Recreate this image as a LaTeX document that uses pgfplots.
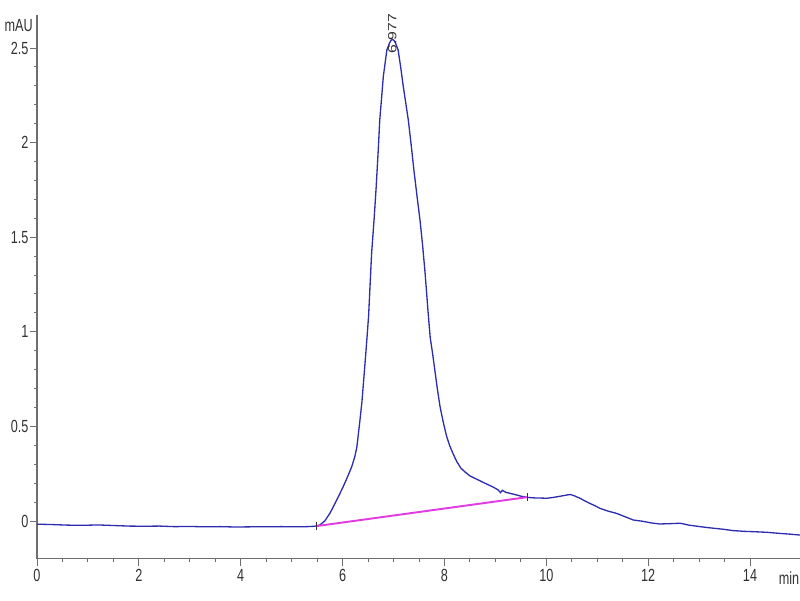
\documentclass[border=0pt]{standalone}
\usepackage{fontspec}
\setmainfont{Liberation Sans}
\usepackage{pgfplots}
\pgfplotsset{compat=1.18}
\definecolor{curve}{RGB}{45,45,175}
\definecolor{base}{RGB}{225,60,225}
\definecolor{axgray}{RGB}{110,110,110}
\definecolor{txtgray}{RGB}{50,50,50}
\begin{document}
\begin{tikzpicture}
\begin{axis}[
  at={(0,0)}, anchor=south west,
  x=1.0186cm, y=3.784cm,
  xmin=0, xmax=15, ymin=-0.2, ymax=2.674,
  axis x line=bottom, axis y line=left,
  axis line style={-, axgray, line width=0.6pt},
  xtick={0,2,...,14}, minor x tick num=3,
  ytick={0,0.5,1,1.5,2,2.5}, minor y tick num=4,
  tick align=outside,
  major tick length=0.14cm, minor tick length=0.07cm,
  tick style={axgray, line width=0.5pt},
  minor tick style={axgray, line width=0.5pt},
  tick label style={font=\fontsize{10}{11}\selectfont, text=txtgray, xscale=0.72},
  /pgf/number format/assume math mode=true,
  yticklabel style={inner sep=1pt},
  xticklabel style={inner sep=2pt},
  clip mode=individual,
]
\addplot[curve, line width=0.75pt] coordinates {
(0,-0.017) (0.3,-0.019) (0.6,-0.022) (0.9,-0.023) (1.2,-0.021) (1.5,-0.024)
(1.8,-0.027) (2.1,-0.028) (2.4,-0.027) (2.7,-0.030) (3.0,-0.029) (3.3,-0.031)
(3.6,-0.030) (3.9,-0.032) (4.2,-0.031) (4.5,-0.031) (4.8,-0.030) (5.1,-0.031)
(5.3,-0.030) (5.45,-0.028) (5.55,-0.022) (5.65,0.000) (5.75,0.040) (5.82,0.076)
(5.92,0.130) (6.01,0.180) (6.10,0.235) (6.18,0.287) (6.24,0.340) (6.28,0.390)
(6.31,0.46) (6.34,0.53) (6.38,0.63) (6.41,0.73) (6.46,0.90) (6.51,1.08)
(6.57,1.415) (6.62,1.60) (6.66,1.767) (6.70,1.96) (6.73,2.12) (6.77,2.25)
(6.80,2.35) (6.84,2.43) (6.87,2.49) (6.92,2.525) (6.95,2.54) (6.977,2.545) (7.01,2.54) (7.04,2.525)
(7.09,2.49) (7.14,2.40) (7.19,2.30) (7.24,2.21) (7.29,2.12) (7.35,1.98)
(7.40,1.855) (7.46,1.72) (7.52,1.59) (7.57,1.46) (7.62,1.31) (7.68,1.10)
(7.72,0.97) (7.77,0.88) (7.81,0.80) (7.86,0.70) (7.91,0.61) (7.97,0.53)
(8.04,0.45) (8.10,0.40) (8.17,0.355) (8.24,0.315) (8.32,0.28) (8.40,0.26)
(8.50,0.238) (8.60,0.225) (8.70,0.212) (8.83,0.195) (8.95,0.18) (9.05,0.165)
(9.10,0.150) (9.14,0.162) (9.2,0.152) (9.3,0.145) (9.42,0.137) (9.52,0.130)
(9.62,0.125) (9.75,0.122) (9.90,0.121) (10.01,0.120) (10.15,0.125) (10.30,0.132)
(10.40,0.137) (10.47,0.140) (10.55,0.133) (10.66,0.120) (10.80,0.100) (10.99,0.076)
(11.05,0.067) (11.20,0.053) (11.38,0.040) (11.55,0.022) (11.71,0.005) (11.90,-0.002)
(12.05,-0.010) (12.23,-0.016) (12.45,-0.014) (12.63,-0.012) (12.80,-0.022) (13.02,-0.030)
(13.20,-0.036) (13.45,-0.043) (13.67,-0.051) (13.90,-0.055) (14.10,-0.057) (14.33,-0.060)
(14.60,-0.066) (14.80,-0.070) (15.00,-0.075)
};
\addplot[base, line width=1.1pt] coordinates {(5.49,-0.027) (9.63,0.126)};
\addplot[only marks, mark=|, mark size=2.2pt, mark options={txtgray, line width=0.5pt}] coordinates {(5.49,-0.027) (9.63,0.126)};
\node[rotate=90, anchor=west, inner sep=0pt, text=txtgray, font=\fontsize{9}{10}\selectfont, yscale=0.75] at (axis cs:6.977,2.47) {6.977};
\node[anchor=east, inner sep=0pt, text=txtgray, font=\fontsize{10}{11}\selectfont, xscale=0.72] at (axis cs:-0.08,2.62) {mAU};
\node[anchor=east, inner sep=0pt, text=txtgray, font=\fontsize{10}{11}\selectfont, xscale=0.72] at (axis cs:14.97,-0.30) {min};
\end{axis}
\pgfresetboundingbox
\useasboundingbox (-0.74,-0.824) rectangle (15.26,11.176);
\end{tikzpicture}
\end{document}
